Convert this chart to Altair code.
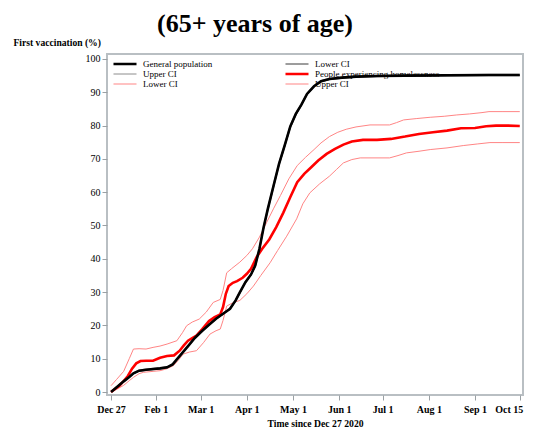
import altair as alt
import pandas as pd

# ---- data (x in days since Dec 27 2020, y in %) ----
gp_days = [0, 4, 9, 13, 16, 20, 25, 30, 35, 40, 44, 47, 50, 55, 60, 65, 70, 75, 80, 85,
           89, 92, 96, 100, 103, 106, 109, 112, 116, 120, 124, 128, 132, 136, 140, 145, 150, 156, 165, 175,
           190, 210, 240, 270, 292]
gp_vals = [0, 1.4, 3.2, 4.5, 5.6, 6.4, 6.7, 6.9, 7.1, 7.4, 8.3, 9.8, 11.3, 13.8, 16.3, 18.3, 20.2, 22.0, 23.5, 25.0,
           27.5, 29.9, 33.0, 35.3, 38.0, 43.0, 49.5, 55.0, 61.8, 68.5, 74.0, 79.7, 83.5, 86.3, 89.5, 91.8, 93.3, 94.0, 94.4, 94.7,
           94.9, 95.0, 95.1, 95.2, 95.2]
gp_lo_vals = [0, 1.2, 3.0, 4.3, 5.4, 6.2, 6.5, 6.7, 6.9, 7.2, 8.1, 9.6, 11.1, 13.6, 16.1, 18.1, 20.0, 21.8, 23.3, 24.8,
              27.2, 29.6, 32.7, 35.0, 37.6, 42.5, 49.0, 54.5, 61.2, 68.0, 73.5, 79.2, 83.1, 86.0, 89.2, 91.6, 93.1, 93.8, 94.2, 94.5,
              94.7, 94.8, 94.9, 95.0, 95.0]
gp_hi_vals = [0, 1.6, 3.4, 4.7, 5.8, 6.6, 6.9, 7.1, 7.3, 7.6, 8.5, 10.0, 11.5, 14.0, 16.5, 18.5, 20.4, 22.2, 23.7, 25.2,
              27.8, 30.2, 33.3, 35.6, 38.4, 43.5, 50.0, 55.5, 62.4, 69.0, 74.5, 80.2, 83.9, 86.6, 89.8, 92.0, 93.5, 94.2, 94.6, 94.9,
              95.1, 95.2, 95.3, 95.4, 95.4]

ph_days = [0, 3, 6, 9, 12, 15, 18, 21, 25, 30, 35, 40, 45, 49, 52, 55, 58, 61, 65, 70,
           74, 78, 80, 82, 84, 87, 90, 94, 97, 100, 104, 108, 113, 118, 123, 128, 133, 138, 143, 148,
           154, 160, 166, 172, 180, 190, 200, 210, 220, 230, 240, 250, 260, 268, 275, 283, 292]
ph_vals = [0, 1.0, 1.9, 3.3, 4.8, 7.0, 8.6, 9.3, 9.4, 9.4, 10.3, 10.8, 11.0, 12.4, 14.0, 15.4, 16.2, 16.9, 18.8, 21.3,
           22.5, 23.3, 25.5, 29.5, 31.8, 32.8, 33.3, 34.3, 35.5, 37.0, 40.5, 43.0, 45.8, 49.5, 53.8, 58.5, 63.0, 65.5, 67.5, 69.5,
           71.5, 73.0, 74.3, 75.2, 75.7, 75.7, 76.0, 76.7, 77.5, 78.0, 78.5, 79.2, 79.3, 79.8, 80.0, 80.0, 79.9]

ph_hi_days = [0, 4, 9, 13, 16, 20, 25, 30, 35, 40, 47, 51, 54, 58, 63, 68, 73, 78, 80, 82.6,
              86, 92, 97, 101, 106, 111, 116, 121, 127, 133, 139, 145, 150, 156, 162, 168, 175, 185, 199, 204,
              209, 218, 228, 238, 247, 256, 265, 270, 280, 292]
ph_hi_vals = [1.9, 3.8, 6.2, 10.0, 12.9, 13.0, 12.9, 13.4, 13.8, 14.4, 15.4, 17.8, 19.9, 21.0, 21.9, 24.0, 26.9, 27.8, 30.5, 35.8,
              37.0, 39.0, 41.0, 43.0, 46.5, 50.8, 55.0, 59.0, 64.0, 68.0, 70.5, 72.8, 74.8, 76.7, 78.0, 78.9, 79.6, 80.2, 80.2, 80.9,
              81.7, 82.1, 82.5, 82.8, 83.2, 83.5, 83.9, 84.2, 84.2, 84.2]

ph_lo_days = [0, 4, 9, 13, 16, 20, 23, 30, 35, 40, 44.5, 48, 51.6, 56, 61, 66, 70.7, 75, 78, 80,
              82.6, 87, 92, 97, 101.7, 107, 113.6, 119, 125.5, 132.6, 137, 142, 149, 156, 161, 166, 172, 178, 190, 199,
              205, 211, 220, 228, 240, 251.6, 262, 270.7, 280, 292]
ph_lo_vals = [0, 0.8, 2.0, 3.4, 4.4, 5.5, 5.9, 6.2, 6.4, 7.0, 7.9, 9.5, 11.4, 12.0, 12.4, 14.8, 17.4, 18.4, 18.9, 21.5,
              25.8, 26.8, 27.5, 29.5, 31.8, 35.0, 38.8, 42.5, 46.8, 52.0, 56.5, 59.8, 62.5, 64.8, 66.8, 68.8, 69.8, 70.3, 70.3, 70.3,
              71.0, 71.8, 72.3, 72.8, 73.3, 74.0, 74.5, 74.9, 74.9, 74.9]

tick_days = [0, 32, 64, 97, 130, 163, 194, 227, 260, 292]
tick_labels = ["Dec 27", "Feb 1", "Mar 1", "Apr 1", "May 1", "Jun 1", "Jul 1", "Aug 1", "Sep 1", "Oct 15"]
y_ticks = [0, 10, 20, 30, 40, 50, 60, 70, 80, 90, 100]

# legend order (filled column by column, 3 rows x 2 columns)
keys = ["gp", "gp_hi", "ph_lo", "gp_lo", "ph", "ph_hi"]
key_labels = ["General population", "Upper CI", "Lower CI",
              "Lower CI", "People experiencing homelessness", "Upper CI"]
colors = ["#000000", "#8c8c8c", "#ff8585", "#3a3a3a", "#ff0000", "#ff8585"]
widths = [2.6, 1.0, 1.0, 1.0, 2.6, 1.0]

# draw order: CIs first, main lines on top
series = [
    ("ph_lo", ph_lo_days, ph_lo_vals),
    ("ph_hi", ph_hi_days, ph_hi_vals),
    ("gp_lo", gp_days, gp_lo_vals),
    ("gp_hi", gp_days, gp_hi_vals),
    ("ph", ph_days, ph_vals),
    ("gp", gp_days, gp_vals),
]
rows = []
for k, ds, vs in series:
    for d, v in zip(ds, vs):
        rows.append({"key": k, "day": d, "value": v})
df = pd.DataFrame(rows)

legend_expr = "{" + ",".join(f"'{k}':'{l}'" for k, l in zip(keys, key_labels)) + "}[datum.label]"
x_expr = "{" + ",".join(f"'{d}':'{l}'" for d, l in zip(tick_days, tick_labels)) + "}[datum.label]"

serif = "Liberation Serif"

leg = alt.Legend(
    title=None, orient="none", legendX=5, legendY=5, columns=2,
    symbolType="stroke", symbolSize=530, clipHeight=10, rowPadding=0,
    columnPadding=71, labelOffset=5, labelFont=serif,
    labelFontSize=9, labelColor="#000000", labelExpr=legend_expr,
    labelLimit=300, padding=0,
)

chart = alt.Chart(df).mark_line(clip=True).encode(
    x=alt.X("day:Q",
            scale=alt.Scale(domain=[-2.9, 294.3], nice=False, zero=False),
            axis=alt.Axis(values=tick_days, labelExpr=x_expr, title="Time since Dec 27 2020",
                          domain=False, grid=False, tickColor="#9aa0a4", tickSize=5,
                          labelFont=serif, labelFontSize=10, labelFontWeight="bold",
                          labelColor="#000000", labelPadding=4,
                          labelFlush=3.6, labelFlushOffset=3,
                          titleFont=serif, titleFontSize=9.7, titleFontWeight="bold",
                          titleColor="#000000", titlePadding=4)),
    y=alt.Y("value:Q",
            scale=alt.Scale(domain=[-0.9, 101.5], nice=False, zero=False),
            axis=alt.Axis(values=y_ticks, title="First vaccination (%)",
                          domain=False, grid=False, tickColor="#9aa0a4", tickSize=5,
                          labelFont=serif, labelFontSize=10, labelColor="#000000", labelPadding=2,
                          titleFont=serif, titleFontSize=9.6, titleFontWeight="bold", titleColor="#000000",
                          titleAngle=0, titleAlign="left", titleBaseline="middle",
                          titleX=-94, titleY=-12)),
    color=alt.Color("key:N", scale=alt.Scale(domain=keys, range=colors), legend=leg),
    strokeWidth=alt.StrokeWidth("key:N", scale=alt.Scale(type="ordinal", domain=keys, range=widths),
                                legend=leg),
).properties(
    width=416, height=341,
    title=alt.TitleParams("(65+ years of age)", font=serif, fontSize=26, fontWeight="bold",
                          color="#000000", anchor="start", frame="group", dx=50, offset=0),
    autosize=alt.AutoSizeParams(type="none"),
    padding={"left": 99, "top": 46, "right": 3, "bottom": 33},
).configure_view(
    stroke="#b9bfc3", strokeWidth=2
)

chart.save("out.html", embed_options={"renderer": "svg", "actions": False})
